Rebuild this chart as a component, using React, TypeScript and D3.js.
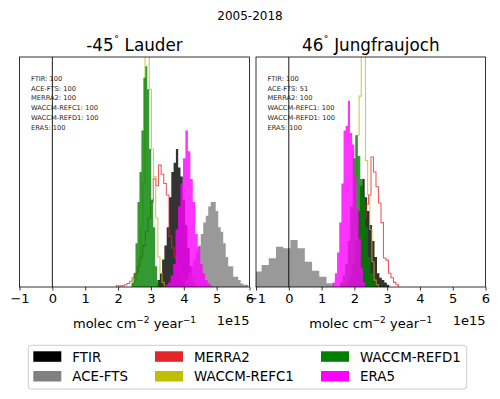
import { useEffect, useRef } from "react";
import * as d3 from "d3";

// series in draw / legend order
const seriesNames = ["FTIR", "ACE-FTS", "MERRA2", "WACCM-REFC1", "WACCM-REFD1", "ERA5"];
const seriesColors = ["#000000", "#808080", "#e3262a", "#bfbf00", "#008000", "#ff00ff"];
const seriesFilled = [true, true, false, false, true, true];

const xTicks = [-1, 0, 1, 2, 3, 4, 5, 6];
const yMax = 100; // histogram heights are given as % of the axis height

// number of trend samples per dataset
const lauderSamples = [100, 100, 100, 100, 100, 100];
const jungfraujochSamples = [100, 51, 100, 100, 100, 100];

// histograms: first bin edge, bin width, bar heights
const lauderFTIR = { x0: 3.2, dx: 0.07, h: [3, 6, 12, 18, 26, 39, 50, 54, 60, 52, 48, 38, 27, 17, 9, 4, 1.5] };
const lauderACE = {
  x0: 4.06,
  dx: 0.076,
  h: [3, 6, 9, 12, 15, 18, 23, 28, 31, 35, 37, 37, 33, 26, 24, 19, 13, 9, 9, 4.5, 4.5, 3, 1.5, 1, 1],
};
const lauderMERRA2 = {
  x0: 1.95,
  dx: 0.08,
  h: [0.5, 0.5, 0.5, 1, 1.5, 2.5, 4, 6, 9, 13, 18, 24, 30, 37, 47, 44, 53, 49, 45, 40, 22, 17, 13, 9, 6, 3, 1.5, 0.5],
};
const lauderREFC1 = { x0: 2.43, dx: 0.065, h: [1, 3, 6, 12, 25, 45, 110, 110, 86, 60, 48, 30, 13, 6, 2] };
const lauderREFD1 = { x0: 2.41, dx: 0.06, h: [2, 6, 19, 37, 50, 68, 91, 96, 86, 60, 38, 26, 9, 2] };
const lauderERA5 = {
  x0: 3.45,
  dx: 0.075,
  h: [1, 2, 5, 10, 25, 35, 45, 56, 68, 59, 47, 37, 23, 17.5, 10, 6, 3, 1.5, 0.5],
};

const jungFTIR = { x0: 1.79, dx: 0.075, h: [2, 5, 10, 20, 33, 44, 47, 39, 33, 27, 20, 13, 6, 4, 3, 2, 1] };
const jungACE = { x0: -1.27, dx: 0.22, h: [3, 6.7, 9.6, 12.5, 17.5, 16.8, 20.4, 16.8, 11, 7.1, 4.5, 1.6] };
const jungMERRA2 = {
  x0: 1.9,
  dx: 0.076,
  h: [1, 3, 7, 14, 22, 30, 36, 40, 56.5, 50, 43.6, 36.5, 28, 12.6, 11.7, 6, 4, 2, 1],
};
const jungREFC1 = { x0: 1.755, dx: 0.065, h: [2, 5, 12, 28, 48, 66, 83, 110, 110, 55, 40, 25, 11, 3, 1] };
const jungREFD1 = { x0: 1.565, dx: 0.077, h: [2, 5, 10, 20, 35, 56, 66, 57, 47, 39, 26, 13, 6, 2] };
const jungERA5 = { x0: 1.34, dx: 0.066, h: [2, 6, 15, 28, 45, 68, 70, 81, 67, 62, 48, 34, 21, 8, 2] };

const panels = [
  {
    lat: "-45",
    site: "Lauder",
    left: 19.5,
    right: 249.5,
    samples: lauderSamples,
    hists: [lauderFTIR, lauderACE, lauderMERRA2, lauderREFC1, lauderREFD1, lauderERA5],
  },
  {
    lat: "46",
    site: "Jungfraujoch",
    left: 256,
    right: 485.5,
    samples: jungfraujochSamples,
    hists: [jungFTIR, jungACE, jungMERRA2, jungREFC1, jungREFD1, jungERA5],
  },
];

const FONT = "DejaVu Sans, sans-serif";

export default function App() {
  const svgRef = useRef<SVGSVGElement>(null);

  useEffect(() => {
    const svg = d3.select(svgRef.current);
    svg.selectAll("*").remove();

    const top = 57;
    const bottom = 287;
    const y = d3.scaleLinear().domain([0, yMax]).range([bottom, top]);
    const defs = svg.append("defs");

    svg
      .append("text")
      .attr("x", 250)
      .attr("y", 20)
      .attr("text-anchor", "middle")
      .attr("font-size", 12)
      .text("2005-2018");

    panels.forEach((p, pi) => {
      const x = d3.scaleLinear().domain([-1, 6]).range([p.left, p.right]);
      const clipId = `plot-clip-${pi}`;
      defs
        .append("clipPath")
        .attr("id", clipId)
        .append("rect")
        .attr("x", p.left)
        .attr("y", top)
        .attr("width", p.right - p.left)
        .attr("height", bottom - top);

      const plot = svg.append("g").attr("clip-path", `url(#${clipId})`);

      const step = d3
        .line<[number, number]>()
        .x((d) => x(d[0]))
        .y((d) => y(d[1]))
        .curve(d3.curveStepAfter);

      p.hists.forEach((hist, i) => {
        const pts: [number, number][] = hist.h.map((v, k) => [hist.x0 + k * hist.dx, v]);
        pts.unshift([hist.x0, 0]);
        pts.push([hist.x0 + hist.h.length * hist.dx, 0]);
        if (seriesFilled[i]) {
          plot
            .append("path")
            .attr("d", step(pts) + "Z")
            .attr("fill", seriesColors[i])
            .attr("fill-opacity", 0.8);
        } else {
          plot
            .append("path")
            .attr("d", step(pts))
            .attr("fill", "none")
            .attr("stroke", seriesColors[i])
            .attr("stroke-opacity", 0.75)
            .attr("stroke-width", 1.1);
        }
      });

      // zero line
      plot
        .append("line")
        .attr("x1", x(0))
        .attr("x2", x(0))
        .attr("y1", top)
        .attr("y2", bottom)
        .attr("stroke", "#000")
        .attr("stroke-width", 0.9);

      // sample counts
      const notes = svg.append("g").attr("font-size", 6.7).attr("fill", "#222");
      seriesNames.forEach((name, i) => {
        notes
          .append("text")
          .attr("x", p.left + 11.5)
          .attr("y", 81 + i * 9.7)
          .text(`${name}: ${p.samples[i]}`);
      });

      // frame
      svg
        .append("rect")
        .attr("x", p.left)
        .attr("y", top)
        .attr("width", p.right - p.left)
        .attr("height", bottom - top)
        .attr("fill", "none")
        .attr("stroke", "#000")
        .attr("stroke-width", 0.8);

      const xAxis = d3
        .axisBottom(x)
        .tickValues(xTicks)
        .tickSize(3.5)
        .tickPadding(3.5)
        .tickFormat((d) => ((d as number) < 0 ? "\u2212" + Math.abs(d as number) : String(d)));

      const ax = svg.append("g").attr("transform", `translate(0,${bottom})`).call(xAxis);
      ax.select(".domain").remove();
      ax.attr("font-family", FONT).attr("font-size", 13);
      ax.selectAll("line").attr("stroke-width", 0.8);

      const cx = (p.left + p.right) / 2;
      const title = svg
        .append("text")
        .attr("x", cx)
        .attr("y", 51)
        .attr("text-anchor", "middle")
        .attr("font-size", 16.8);
      title.append("tspan").text(p.lat);
      title.append("tspan").attr("font-size", 11).attr("dy", -7).text("\u02da");
      title.append("tspan").attr("dy", 7).text(" " + p.site);

      const xl = svg
        .append("text")
        .attr("x", cx)
        .attr("y", 328)
        .attr("text-anchor", "middle")
        .attr("font-size", 13);
      xl.append("tspan").text("molec cm");
      xl.append("tspan").attr("font-size", 9).attr("dy", -5).text("\u22122");
      xl.append("tspan").attr("dy", 5).text(" year");
      xl.append("tspan").attr("font-size", 9).attr("dy", -5).text("\u22121");

      svg
        .append("text")
        .attr("x", p.right)
        .attr("y", 325)
        .attr("text-anchor", "end")
        .attr("font-size", 13)
        .text("1e15");
    });

    // legend
    const lg = svg.append("g");
    lg.append("rect")
      .attr("x", 28.3)
      .attr("y", 345.3)
      .attr("width", 438.4)
      .attr("height", 43.7)
      .attr("rx", 3)
      .attr("fill", "#fff")
      .attr("stroke", "#cccccc")
      .attr("stroke-width", 1);
    const colX = [33.3, 155, 321];
    const rowY = [351.3, 371];
    seriesNames.forEach((name, i) => {
      const col = Math.floor(i / 2);
      const row = i % 2;
      lg.append("rect")
        .attr("x", colX[col])
        .attr("y", rowY[row])
        .attr("width", 28)
        .attr("height", 10.5)
        .attr("fill", seriesColors[i]);
      lg.append("text")
        .attr("x", colX[col] + 39)
        .attr("y", rowY[row] + 10.3)
        .attr("font-size", 13.4)
        .text(name);
    });
  }, []);

  return (
    <svg
      ref={svgRef}
      width={500}
      height={399}
      style={{ position: "absolute", left: 0, top: 0, background: "#fff" }}
      fontFamily={FONT}
    />
  );
}
